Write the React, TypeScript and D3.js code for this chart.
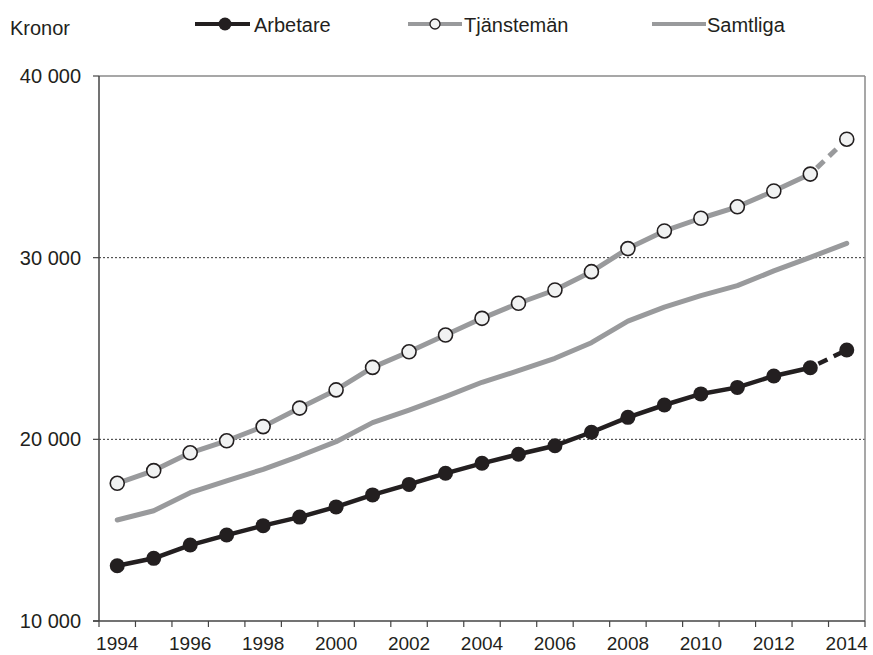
import React from "react";
import * as d3 from "d3";

const years = d3.range(1994, 2015).map(String);
const arbetare = [13040, 13450, 14180, 14730, 15250, 15720, 16280, 16940, 17520, 18130, 18680, 19180, 19650, 20390, 21210, 21890, 22500, 22860, 23490, 23940, 24920];
const tjansteman = [17580, 18280, 19260, 19920, 20700, 21720, 22720, 23960, 24820, 25740, 26660, 27490, 28220, 29230, 30500, 31470, 32170, 32800, 33670, 34600, 36520];
const samtliga = [15560, 16070, 17060, 17710, 18350, 19080, 19870, 20920, 21610, 22350, 23140, 23780, 24460, 25320, 26510, 27280, 27910, 28460, 29270, 30020, 30790];
const yTicks = [10000, 20000, 30000, 40000];
const xTickLabels = years.filter((_, i) => i % 2 === 0);

const W = 873, H = 655;
const M = { left: 99, right: 865, top: 76, bottom: 621 };
const FONT = "'Liberation Sans', Arial, sans-serif";
const BLACK = "#231f20";
const GRAY = "#999a9c";

export default function App() {
  const x = d3.scaleBand<string>().domain(years).range([M.left, M.right]).padding(0);
  const cx = (y: string) => (x(y) as number) + x.bandwidth() / 2;
  const y = d3.scaleLinear().domain([10000, 40000]).range([M.bottom, M.top]);
  const fmt = (v: number) => d3.format(",")(v).replace(/,/g, " ");

  const line = d3.line<[string, number]>().x(d => cx(d[0])).y(d => y(d[1]));
  const pairs = (arr: number[]) => years.map((yr, i) => [yr, arr[i]] as [string, number]);
  const solidPart = (arr: number[]) => pairs(arr).slice(0, arr.length - 1);
  const dashPart = (arr: number[]) => pairs(arr).slice(arr.length - 2);

  const boundaries = years.map((yr) => x(yr) as number).concat([M.right]);

  return (
    <svg width={W} height={H} style={{ position: "absolute", left: 0, top: 0 }} fontFamily={FONT}>
      <rect x={0} y={0} width={W} height={H} fill="#fff" />
      {/* legend */}
      <text x={10} y={35} fontSize={20} fill={BLACK}>Kronor</text>
      <g>
        <line x1={195} x2={250} y1={24} y2={24} stroke={BLACK} strokeWidth={4} />
        <circle cx={225} cy={24} r={6.5} fill={BLACK} />
        <text x={254} y={32} fontSize={20} fill={BLACK}>Arbetare</text>
        <line x1={408} x2={462} y1={24} y2={24} stroke={GRAY} strokeWidth={4} />
        <circle cx={435} cy={24} r={5} fill="#f1f2f2" stroke={BLACK} strokeWidth={1.3} />
        <text x={464} y={32} fontSize={20} fill={BLACK}>Tjänstemän</text>
        <line x1={652} x2={706} y1={24} y2={24} stroke={GRAY} strokeWidth={4} />
        <text x={707} y={32} fontSize={20} fill={BLACK}>Samtliga</text>
      </g>
      {/* gridlines */}
      {yTicks.filter(t => t > 10000 && t < 40000).map(t => (
        <line key={t} x1={M.left} x2={M.right} y1={y(t)} y2={y(t)} stroke="#333" strokeWidth={1} strokeDasharray="2,2" />
      ))}
      {/* frame */}
      <line x1={M.left} x2={M.right} y1={M.top} y2={M.top} stroke="#8a8a8a" strokeWidth={1.5} />
      <line x1={M.right} x2={M.right} y1={M.top} y2={M.bottom} stroke="#8a8a8a" strokeWidth={1.5} />
      {/* y axis */}
      <line x1={M.left} x2={M.left} y1={M.top} y2={M.bottom} stroke="#444" strokeWidth={1.5} />
      {yTicks.map(t => (
        <g key={t}>
          <line x1={M.left - 6} x2={M.left} y1={y(t)} y2={y(t)} stroke="#444" strokeWidth={1.2} />
          <text x={81} y={y(t) + 7} fontSize={20} textAnchor="end" fill={BLACK}>{fmt(t)}</text>
        </g>
      ))}
      {/* x axis */}
      <line x1={M.left - 6} x2={M.right} y1={M.bottom} y2={M.bottom} stroke="#444" strokeWidth={1.5} />
      {boundaries.map((b, i) => (
        <line key={i} x1={b} x2={b} y1={M.bottom} y2={M.bottom + 6} stroke="#444" strokeWidth={1.2} />
      ))}
      {xTickLabels.map(l => (
        <text key={l} x={cx(l)} y={650} fontSize={19} textAnchor="middle" fill={BLACK}>{l}</text>
      ))}
      {/* Samtliga */}
      <path d={line(pairs(samtliga)) as string} fill="none" stroke={GRAY} strokeWidth={5} strokeLinejoin="round" strokeLinecap="round" />
      {/* Tjänstemän */}
      <path d={line(solidPart(tjansteman)) as string} fill="none" stroke={GRAY} strokeWidth={5} strokeLinejoin="round" />
      <path d={line(dashPart(tjansteman)) as string} fill="none" stroke={GRAY} strokeWidth={5} strokeDasharray="10,7" strokeDashoffset={-9} />
      {pairs(tjansteman).map(([yr, v]) => (
        <circle key={yr} cx={cx(yr)} cy={y(v)} r={7} fill="#f1f2f2" stroke={BLACK} strokeWidth={1.6} />
      ))}
      {/* Arbetare */}
      <path d={line(solidPart(arbetare)) as string} fill="none" stroke={BLACK} strokeWidth={4.5} strokeLinejoin="round" />
      <path d={line(dashPart(arbetare)) as string} fill="none" stroke={BLACK} strokeWidth={4.5} strokeDasharray="10,7" strokeDashoffset={-9} />
      {pairs(arbetare).map(([yr, v]) => (
        <circle key={yr} cx={cx(yr)} cy={y(v)} r={7.5} fill={BLACK} />
      ))}
    </svg>
  );
}
